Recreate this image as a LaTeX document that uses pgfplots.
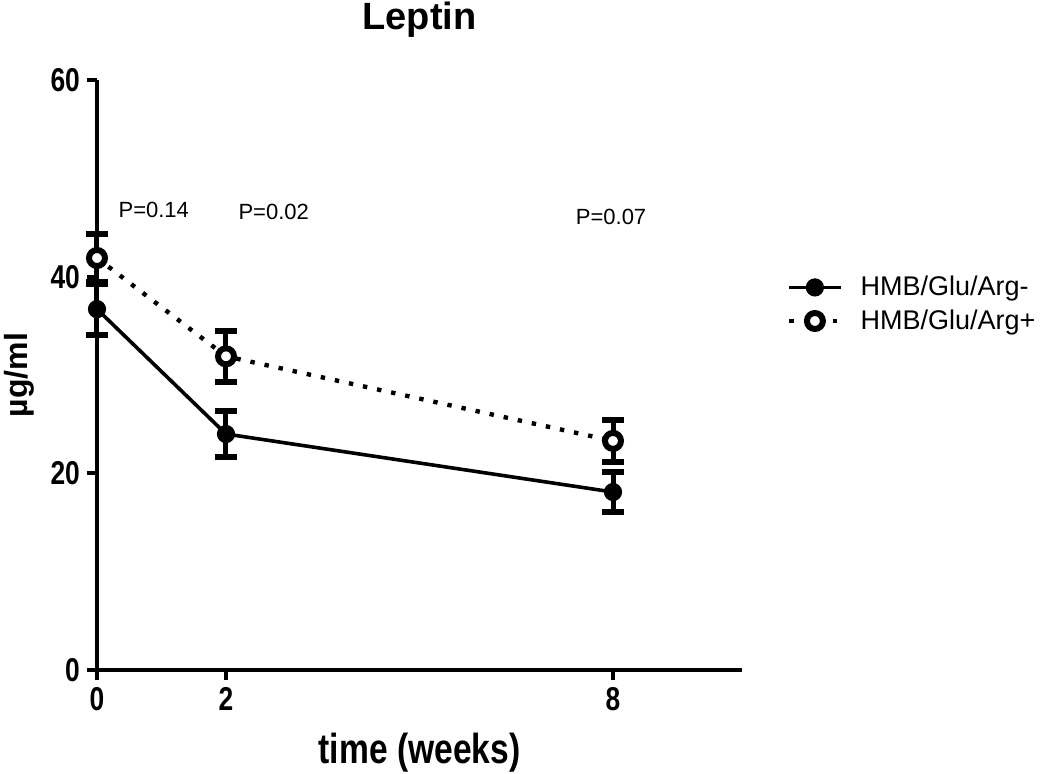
\documentclass[border=0pt]{standalone}
\usepackage{pgfplots}
\pgfplotsset{compat=1.18}
\usepackage{fontspec}
\setmainfont{Liberation Sans}
\newfontfamily\narrowfont[FakeStretch=0.8]{Liberation Sans}
\begin{document}
\begin{tikzpicture}
\begin{axis}[
  scale only axis,
  width=322.5pt, height=295pt,
  xmin=0, xmax=10, ymin=0, ymax=60,
  axis lines*=left,
  axis line style={line width=2pt, -},
  xtick={0,2,8}, ytick={0,20,40,60},
  tick align=outside,
  major tick length=5pt,
  tick style={line width=2pt, black},
  /pgf/number format/assume math mode=true,
  tick label style={font=\narrowfont\bfseries\fontsize{16.5}{19}\selectfont},
  clip=false,
  title={Leptin},
  title style={at={(axis description cs:0.5,1)}, anchor=base, yshift=19.5pt, font=\bfseries\fontsize{19}{22}\selectfont},
  xlabel={time (weeks)},
  xlabel style={at={(axis description cs:0.5,0)}, anchor=base, yshift=-46.5pt, font=\narrowfont\bfseries\fontsize{21}{24}\selectfont},
  ylabel={µg/ml},
  ylabel style={at={(axis description cs:-0.108,0.5)}, anchor=base, font=\bfseries\fontsize{16}{19}\selectfont},
  legend style={at={(rel axis cs:1.06,0.62)}, anchor=west, draw=none, fill=none,
    font=\fontsize{13.5}{16}\selectfont, row sep=1.5pt},
  legend cell align=left,
  legend image code/.code={\draw[mark repeat=2,mark phase=2,#1] plot coordinates {(0cm,0cm)(0.45cm,0cm)(0.9cm,0cm)};},
]
\addplot[black, line width=1.8pt, mark=*, mark size=4.3pt, mark options={solid, fill=black, line width=0.5pt},
  error bars/.cd, y dir=both, y explicit,
  error bar style={line width=2.5pt, solid},
  error mark options={rotate=90, mark size=5.5pt, line width=3pt, solid}]
  coordinates {
  (0,36.7) +- (0,2.6)
  (2,24.0) +- (0,2.3)
  (8,18.1) +- (0,2.0)
};
\addlegendentry{\hspace{7pt}HMB/Glu/Arg-}
\addplot[black, line width=2.2pt, dash pattern=on 2.2pt off 5pt, mark=*, mark size=4pt,
  mark options={solid, fill=white, line width=3pt},
  error bars/.cd, y dir=both, y explicit,
  error bar style={line width=2.5pt, solid},
  error mark options={rotate=90, mark size=5.5pt, line width=3pt, solid}]
  coordinates {
  (0,41.9) +- (0,2.4)
  (2,31.9) +- (0,2.6)
  (8,23.3) +- (0,2.1)
};
\addlegendentry{\hspace{7pt}HMB/Glu/Arg+}
\node[font=\fontsize{11}{13}\selectfont] at (axis cs:0.88,46.8) {P=0.14};
\node[font=\fontsize{11}{13}\selectfont] at (axis cs:2.74,46.6) {P=0.02};
\node[font=\fontsize{11}{13}\selectfont] at (axis cs:7.97,46.1) {P=0.07};
\end{axis}
\pgfresetboundingbox
\path[use as bounding box] (current axis.south west) ++(-48.5pt,-51.5pt) rectangle ++(525pt,386.5pt);
\end{tikzpicture}
\end{document}
